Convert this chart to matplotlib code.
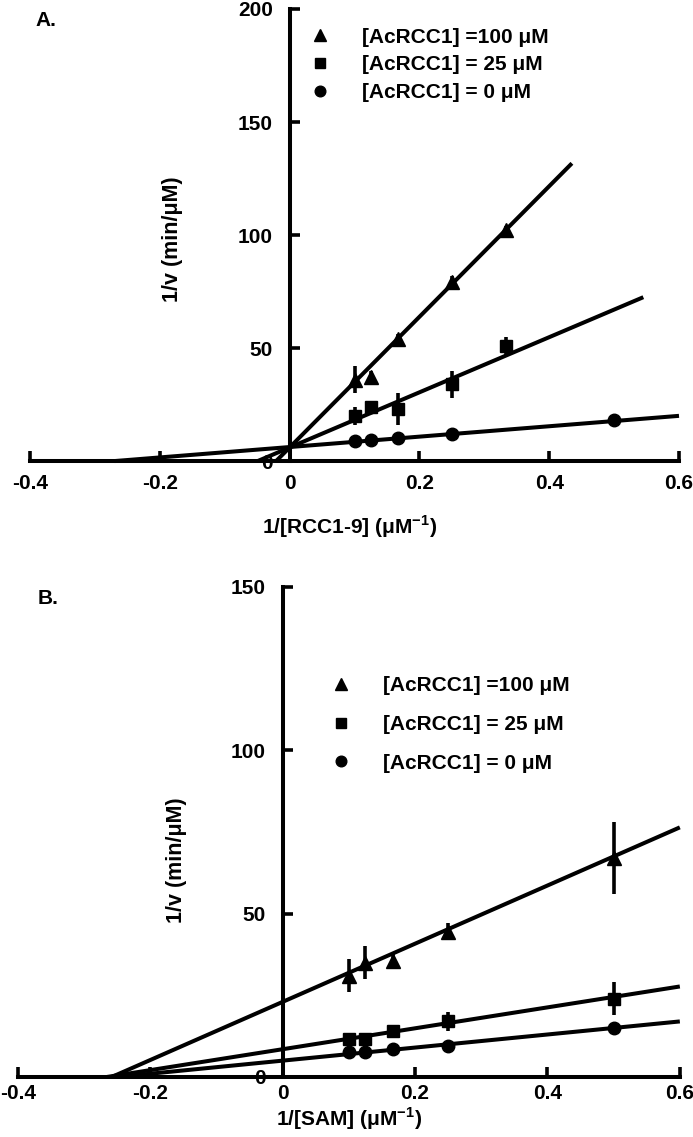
import matplotlib
matplotlib.use('Agg')
import matplotlib.pyplot as plt
import numpy as np

plt.rcParams['font.family'] = ['Liberation Sans Narrow', 'Liberation Sans', 'DejaVu Sans']
plt.rcParams['font.weight'] = 'bold'
plt.rcParams['mathtext.fontset'] = 'custom'
plt.rcParams['mathtext.rm'] = 'Liberation Sans:bold'
plt.rcParams['mathtext.bf'] = 'Liberation Sans:bold'

labels = ['[AcRCC1] =100 \u03bcM', '[AcRCC1] = 25 \u03bcM', '[AcRCC1] = 0 \u03bcM']
markers = ['^', 's', 'o']

# panel A : 1/[RCC1-9]
xA = [0.1, 0.125, 0.167, 0.25, 0.333]
xA_circ = [0.1, 0.125, 0.167, 0.25, 0.5]
yA_tri = [36, 37, 54, 79, 102]
eA_tri = [6, 3, 2, 3, 2]
yA_sq = [20, 24, 23, 34, 51]
eA_sq = [4, 2, 7, 6, 4]
yA_circ = [9, 9.5, 10, 12, 18]
eA_circ = [1, 0.8, 0.8, 1, 1]
slopeA = [289, 122, 23]
interA = [6, 6, 6.2]
xendA = [0.435, 0.545, 0.6]

# panel B : 1/[SAM]
xB = [0.1, 0.125, 0.167, 0.25, 0.5]
yB_tri = [31, 35, 35.5, 44.5, 67]
eB_tri = [5, 5, 2, 2.5, 11]
yB_sq = [11.5, 11.5, 14, 17, 24]
eB_sq = [1, 1, 1.5, 3, 5]
yB_circ = [7.5, 7.5, 8.5, 9.5, 15]
eB_circ = [0.5, 0.5, 0.5, 0.5, 0.8]
slopeB = [89, 32, 20]
interB = [23, 8.5, 5]
xendB = [0.6, 0.6, 0.6]


def panel(ax, xs, ys, es, slopes, inters, xends, ymax, ystep, xlabel, leg_anchor, lspace, xpad):
    ax.set_xlim(-0.4, 0.6)
    ax.set_ylim(0, ymax)
    # fitted lines from x intercept
    for m, b, xe in zip(slopes, inters, xends):
        x0 = -b / m
        ax.plot([x0, xe], [0, m * xe + b], color='black', lw=2.9,
                solid_capstyle='butt', clip_on=False, zorder=3)
    hs = []
    for x, y, e, mk in zip(xs, ys, es, markers):
        ax.errorbar(x, y, yerr=e, fmt='none', ecolor='black', elinewidth=2.6,
                    capsize=0, zorder=4)
        h, = ax.plot(x, y, mk, color='black', ms=9 if mk != '^' else 10.5, ls='none', zorder=5)
        hs.append(h)
    ax.legend(hs, labels, loc='upper left', bbox_to_anchor=leg_anchor, frameon=False,
              handlelength=1.0, handletextpad=1.5, labelspacing=lspace, borderaxespad=0,
              markerscale=0.85,
              prop={'family': ['Liberation Sans', 'DejaVu Sans'], 'weight': 'bold', 'size': 15})
    for s in ['top', 'right']:
        ax.spines[s].set_visible(False)
    ax.spines['left'].set_position(('data', 0))
    ax.spines['bottom'].set_position(('data', 0))
    for s in ['left', 'bottom']:
        ax.spines[s].set_linewidth(2.9)
    ax.set_xticks(np.arange(-0.4, 0.61, 0.2))
    ax.set_xticklabels(['-0.4', '-0.2', '0', '0.2', '0.4', '0.6'])
    ax.set_yticks(np.arange(0, ymax + 1, ystep))
    ax.tick_params(direction='in', length=7, width=2.6, labelsize=15)
    ax.tick_params(axis='x', pad=xpad)
    ax.tick_params(axis='y', pad=12)
    ax.set_xlabel(xlabel, fontsize=15, fontweight='bold')
    ax.set_ylabel('1/v (min/\u03bcM)', fontsize=15.5, fontweight='bold')
    ax.patch.set_visible(False)


fig = plt.figure(figsize=(6.93, 11.37), dpi=100)
axA = fig.add_axes([0.0433, 0.5945, 0.9365, 0.3976])
axB = fig.add_axes([0.026, 0.0528, 0.955, 0.431])

panel(axA, [xA, xA, xA_circ], [yA_tri, yA_sq, yA_circ], [eA_tri, eA_sq, eA_circ],
      slopeA, interA, xendA, 200, 50, r'1/[RCC1-9] ($\mathbf{\mu}$M$^{\mathbf{-1}}$)',
      (0.418, 0.977), 0.42, 9)
panel(axB, [xB, xB, xB], [yB_tri, yB_sq, yB_circ], [eB_tri, eB_sq, eB_circ],
      slopeB, interB, xendB, 150, 50, r'1/[SAM] ($\mathbf{\mu}$M$^{\mathbf{-1}}$)',
      (0.46, 0.835), 0.95, 5)

axA.xaxis.set_label_coords(0.493, -0.115)
axA.yaxis.set_label_coords(0.236, 0.49)
axB.xaxis.set_label_coords(0.5, -0.058)
axB.yaxis.set_label_coords(0.255, 0.443)

fig.text(35 / 693, 1 - 20 / 1137, 'A.', fontsize=15, fontweight='bold', ha='left', va='center')
fig.text(38 / 693, 1 - 598 / 1137, 'B.', fontsize=15, fontweight='bold', ha='left', va='center')

fig.savefig('out.png', dpi=100)
